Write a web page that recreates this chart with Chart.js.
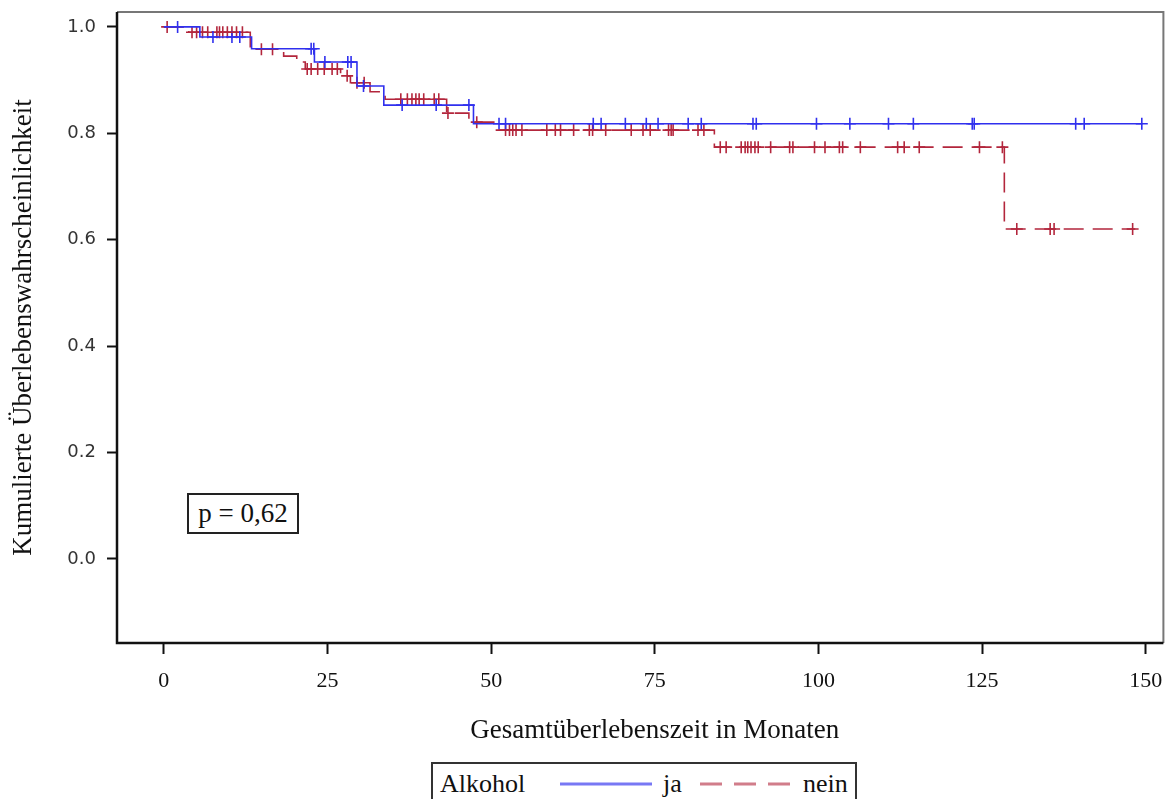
<!DOCTYPE html>
<html>
<head>
<meta charset="utf-8">
<script src="https://cdn.jsdelivr.net/npm/chart.js@4.4.1/dist/chart.umd.min.js"></script>
<style>
html,body{margin:0;padding:0;background:#fff;}
#wrap{position:relative;width:1171px;height:799px;overflow:hidden;background:#fff;}
#c{position:absolute;left:0;top:0;}
#pbox{position:absolute;left:187px;top:493px;width:108px;height:37px;border:2px solid #222;
  font-family:'Liberation Serif','Times New Roman',serif;font-size:27px;line-height:37px;text-align:center;color:#111;background:#fff;}
#legend{position:absolute;left:430px;top:761px;}
</style>
</head>
<body>
<div id="wrap">
  <canvas id="c" width="1171" height="799"></canvas>
  <div id="pbox">p = 0,62</div>
  <svg id="legend" width="430" height="40" xmlns="http://www.w3.org/2000/svg">
    <rect x="2" y="2" width="424" height="44" fill="#fff" stroke="#333" stroke-width="2"/>
    <text x="10" y="31" font-family="Liberation Serif, Times New Roman, serif" font-size="26" fill="#111">Alkohol</text>
    <line x1="130" y1="23" x2="222" y2="23" stroke="#3030ee" stroke-opacity="0.65" stroke-width="3"/>
    <text x="233" y="31" font-family="Liberation Serif, Times New Roman, serif" font-size="26" fill="#111">ja</text>
    <line x1="270" y1="23" x2="360" y2="23" stroke="#b3263c" stroke-opacity="0.6" stroke-width="3" stroke-dasharray="22 12"/>
    <text x="373" y="31" font-family="Liberation Serif, Times New Roman, serif" font-size="26" fill="#111">nein</text>
  </svg>
</div>
<script>
// ---------- data ----------
const X_TICKS = [0, 25, 50, 75, 100, 125, 150];
const Y_TICKS = [0.0, 0.2, 0.4, 0.6, 0.8, 1.0];
const X_TITLE = 'Gesamtüberlebenszeit in Monaten';
const Y_TITLE = 'Kumulierte Überlebenswahrscheinlichkeit';
const SERIES_NAMES = ['ja', 'nein'];

// Kaplan-Meier steps, group "ja"
const jaTimes = [0, 5.5, 13.4, 23.0, 29.5, 33.6, 47.3, 149.5];
const jaSurv  = [1.0, 0.981, 0.959, 0.934, 0.889, 0.853, 0.818, 0.818];
// censored observations, group "ja"
const jaCensor = [2.1, 7.5, 10.4, 11.6, 22.5, 22.9, 24.6, 28.1, 28.6, 30.5, 36.4, 41.6, 46.6,
  51.2, 52.2, 65.6, 66.8, 70.5, 73.7, 75.5, 80.1, 82.1, 90.0, 90.5, 99.7, 104.8, 110.7,
  114.5, 123.5, 123.8, 139.3, 140.6, 149.4];

// Kaplan-Meier steps, group "nein"
const neinTimes = [0, 3.8, 13.2, 18.3, 20.3, 21.6, 27.0, 28.5, 31.5, 33.8, 43.2, 46.6, 50.4, 84.1, 128.4, 148.4];
const neinSurv  = [1.0, 0.990, 0.958, 0.945, 0.934, 0.921, 0.908, 0.895, 0.878, 0.864, 0.838, 0.821, 0.806, 0.774, 0.620, 0.620];
// censored observations, group "nein"
const neinCensor = [0.5, 4.3, 5.0, 5.9, 6.7, 8.1, 8.5, 9.0, 9.7, 10.4, 11.1, 12.0, 14.9, 16.6,
  21.9, 22.5, 23.5, 24.5, 25.7, 26.5, 28.0, 29.5, 30.6,
  36.2, 37.2, 37.9, 38.5, 39.0, 39.7, 41.3, 42.0, 43.4, 47.8,
  52.2, 52.8, 53.3, 53.8, 54.7, 58.5, 59.8, 60.6, 62.6, 65.0, 65.5, 67.5, 71.4, 73.2, 74.3,
  77.1, 77.5, 77.8, 81.6, 82.5,
  85.0, 85.9, 88.2, 88.8, 89.2, 89.7, 90.3, 90.8, 92.7, 95.6, 96.1, 99.4, 101.0, 103.2,
  103.7, 106.4, 112.1, 113.1, 115.4, 124.6, 128.1,
  130.3, 135.4, 136.0, 148.0];

// ---------- build datasets ----------
function stepPoints(times, surv) { return times.map((t, i) => ({x: t, y: surv[i]})); }
function levelAt(times, surv, t) {
  let s = surv[0];
  for (let i = 0; i < times.length; i++) { if (times[i] <= t) s = surv[i]; }
  return s;
}
function censorPoints(cens, times, surv) { return cens.map(t => ({x: t, y: levelAt(times, surv, t)})); }

const BLUE = '#3030ee';
const RED = '#b3263c';

const framePlugin = {
  id: 'frame',
  afterDraw(chart) {
    const {ctx, chartArea: a, scales: {x}} = chart;
    ctx.save();
    ctx.strokeStyle = '#777'; ctx.lineWidth = 2;
    ctx.beginPath(); ctx.moveTo(a.left, a.top); ctx.lineTo(a.right, a.top); ctx.lineTo(a.right, a.bottom); ctx.stroke();
    ctx.strokeStyle = '#111'; ctx.lineWidth = 2.5;
    ctx.beginPath(); ctx.moveTo(a.left, a.top); ctx.lineTo(a.left, a.bottom); ctx.lineTo(a.right, a.bottom); ctx.stroke();
    ctx.fillStyle = '#111';
    ctx.font = "27px 'Liberation Serif', 'Times New Roman', serif";
    ctx.textAlign = 'center'; ctx.textBaseline = 'middle';
    const mid = (X_TICKS[0] + X_TICKS[X_TICKS.length - 1]) / 2;
    ctx.fillText(X_TITLE, x.getPixelForValue(mid), 731);
    ctx.restore();
  }
};

function noPad(s) { s.paddingTop = 0; s.paddingBottom = 0; s.paddingLeft = 0; s.paddingRight = 0; }

new Chart(document.getElementById('c'), {
  type: 'line',
  data: {
    datasets: [
      {label: SERIES_NAMES[0], data: stepPoints(jaTimes, jaSurv), stepped: 'before',
        borderColor: BLUE, borderWidth: 1.6, pointRadius: 0, fill: false},
      {label: SERIES_NAMES[1], data: stepPoints(neinTimes, neinSurv), stepped: 'before',
        borderColor: RED, borderWidth: 1.6, borderDash: [20, 9], pointRadius: 0, fill: false},
      {label: SERIES_NAMES[0] + ' zensiert', data: censorPoints(jaCensor, jaTimes, jaSurv), showLine: false,
        pointStyle: 'cross', pointRadius: 6, pointBorderWidth: 1.6, borderColor: BLUE, backgroundColor: BLUE},
      {label: SERIES_NAMES[1] + ' zensiert', data: censorPoints(neinCensor, neinTimes, neinSurv), showLine: false,
        pointStyle: 'cross', pointRadius: 6, pointBorderWidth: 1.6, borderColor: RED, backgroundColor: RED}
    ]
  },
  options: {
    responsive: false,
    animation: false,
    layout: {padding: {top: 12, right: 4, left: 0, bottom: 0}},
    plugins: {legend: {display: false}, tooltip: {enabled: false}},
    events: [],
    scales: {
      x: {
        type: 'linear', min: -7.16, max: 152.7,
        afterBuildTicks: s => { s.ticks = X_TICKS.map(v => ({value: v})); },
        afterFit: s => { s.height = 156; noPad(s); },
        border: {display: false},
        grid: {display: true, drawOnChartArea: false, drawTicks: true, tickLength: 11, tickWidth: 2, tickColor: '#111'},
        ticks: {padding: 14, color: '#111', font: {family: "'Liberation Serif', 'Times New Roman', serif", size: 22},
          callback: v => String(v), maxRotation: 0, autoSkip: false}
      },
      y: {
        type: 'linear', min: -0.158, max: 1.028,
        afterBuildTicks: s => { s.ticks = Y_TICKS.map(v => ({value: v})); },
        afterFit: s => { s.width = 117; noPad(s); },
        border: {display: false},
        grid: {display: true, drawOnChartArea: false, drawTicks: true, tickLength: 10, tickWidth: 2, tickColor: '#111'},
        ticks: {padding: 11, color: '#333', font: {family: "'DejaVu Sans', Verdana, sans-serif", size: 18},
          callback: v => Number(v).toFixed(1)},
        title: {display: true, text: Y_TITLE, color: '#111', padding: {top: 8, bottom: 0},
          font: {family: "'Liberation Serif', 'Times New Roman', serif", size: 27}}
      }
    }
  },
  plugins: [framePlugin]
});
</script>
</body>
</html>
